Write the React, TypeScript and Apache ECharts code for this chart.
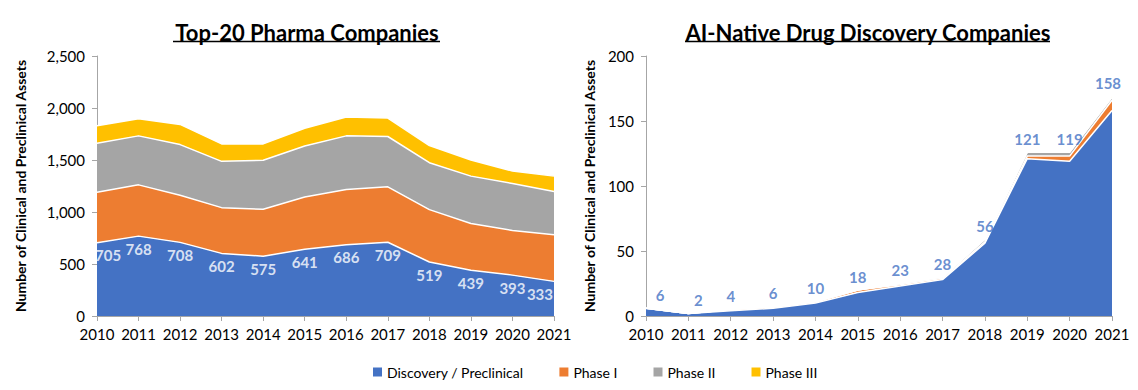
import React, { useEffect, useRef } from "react";
import * as echarts from "echarts";

const years = ["2010", "2011", "2012", "2013", "2014", "2015", "2016", "2017", "2018", "2019", "2020", "2021"];
const seriesNames = ["Discovery / Preclinical", "Phase I", "Phase II", "Phase III"];
const colors = ["#4472C4", "#ED7D31", "#A5A5A5", "#FFC000"];

const pharmaDiscovery = [705, 768, 708, 602, 575, 641, 686, 709, 519, 439, 393, 333];
const pharmaPhase1 = [485, 493, 453, 440, 451, 504, 530, 533, 504, 451, 430, 448];
const pharmaPhase2 = [471, 471, 487, 445, 471, 490, 516, 484, 451, 455, 451, 416];
const pharmaPhase3 = [168, 165, 194, 168, 158, 171, 181, 177, 165, 155, 120, 148];

const aiDiscovery = [6, 2, 4, 6, 10, 18, 23, 28, 56, 121, 119, 158];
const aiPhase1 = [0, 0, 1, 1, 1, 2, 1, 1, 1, 2, 4, 8];
const aiPhase2 = [0, 0, 0, 0, 0, 0, 1, 1, 2, 3, 3, 2];
const aiPhase3 = [0, 0, 0, 0, 0, 0, 0, 0, 0, 0, 0, 1];

const leftTicks = [0, 500, 1000, 1500, 2000, 2500];
const rightTicks = [0, 50, 100, 150, 200];

const FONT = "Lato";

export default function App() {
  const ref = useRef<HTMLDivElement>(null);

  useEffect(() => {
    if (!ref.current) return;
    const chart = echarts.init(ref.current, undefined, { renderer: "svg" });

    const axisLine = { show: true, lineStyle: { color: "#A6A6A6", width: 1 } };
    const axisTick = { show: true, length: 5, lineStyle: { color: "#A6A6A6" } };
    const axisLabel = { color: "#000", fontSize: 15, fontFamily: FONT };

    const mkArea = (name: string, data: number[], idx: number, stack: string, ci: number) => ({
      name,
      type: "line",
      stack,
      xAxisIndex: idx,
      yAxisIndex: idx,
      data,
      symbol: "none",
      lineStyle: { color: "#FFFFFF", width: 1.5 },
      itemStyle: { color: colors[ci] },
      areaStyle: { color: colors[ci], opacity: 1 },
      z: 2,
    });

    const pharmaSets = [pharmaDiscovery, pharmaPhase1, pharmaPhase2, pharmaPhase3];
    const aiSets = [aiDiscovery, aiPhase1, aiPhase2, aiPhase3];

    const aiTotals = years.map((_, i) => aiSets.reduce((s, a) => s + a[i], 0));

    const nameStyle = { fontFamily: FONT, fontWeight: "bold", fontSize: 14, color: "#000" };

    const option: any = {
      animation: false,
      textStyle: { fontFamily: FONT },
      title: [
        {
          text: "Top-20 Pharma Companies",
          left: 302,
          textAlign: "center",
          top: 16,
          textStyle: { fontFamily: FONT, fontWeight: "bold", fontSize: 22, color: "#000" },
        },
        {
          text: "AI-Native Drug Discovery Companies",
          left: 863,
          textAlign: "center",
          top: 16,
          textStyle: { fontFamily: FONT, fontWeight: "bold", fontSize: 22, color: "#000" },
        },
      ],
      graphic: [
        { type: "line", shape: { x1: 173, y1: 41.5, x2: 440, y2: 41.5 }, style: { stroke: "#000", lineWidth: 1.5 } },
        { type: "line", shape: { x1: 685, y1: 41.5, x2: 1050, y2: 41.5 }, style: { stroke: "#000", lineWidth: 1.5 } },
      ],
      legend: {
        data: seriesNames.map((n, i) => ({ name: n, itemStyle: { color: colors[i] } })),
        left: 368,
        top: 360,
        icon: "rect",
        itemWidth: 9,
        itemHeight: 9,
        itemGap: 36,
        textStyle: { color: "#000", fontSize: 14, fontFamily: FONT },
      },
      grid: [
        { left: 97, top: 56, width: 457, height: 260 },
        { left: 646, top: 56, width: 466, height: 260 },
      ],
      xAxis: [0, 1].map((i) => ({
        type: "category",
        gridIndex: i,
        data: years,
        boundaryGap: false,
        axisLine,
        axisTick: { ...axisTick, interval: 0 },
        axisLabel: { ...axisLabel, interval: 0, margin: 10 },
        splitLine: { show: false },
      })),
      yAxis: [
        {
          type: "value",
          gridIndex: 0,
          min: leftTicks[0],
          max: leftTicks[leftTicks.length - 1],
          interval: 500,
          axisLine,
          axisTick,
          splitLine: { show: false },
          axisLabel: {
            ...axisLabel,
            margin: 12,
            formatter: (v: number) => v.toLocaleString("en-US"),
          },
          name: "Number of Clinical and Preclinical Assets",
          nameLocation: "middle",
          nameRotate: 90,
          nameGap: 70,
          nameTextStyle: nameStyle,
        },
        {
          type: "value",
          gridIndex: 1,
          min: rightTicks[0],
          max: rightTicks[rightTicks.length - 1],
          interval: 50,
          axisLine,
          axisTick,
          splitLine: { show: false },
          axisLabel: { ...axisLabel, margin: 12 },
          name: "Number of Clinical and Preclinical Assets",
          nameLocation: "middle",
          nameRotate: 90,
          nameGap: 50,
          nameTextStyle: nameStyle,
        },
      ],
      series: [
        ...pharmaSets.map((d, i) => mkArea(seriesNames[i], d, 0, "pharma", i)),
        ...aiSets.map((d, i) => mkArea(seriesNames[i], d, 1, "ai", i)),
        {
          type: "scatter",
          xAxisIndex: 0,
          yAxisIndex: 0,
          symbolSize: 0,
          silent: true,
          z: 5,
          data: pharmaDiscovery.map((v, i) => ({
            value: [i, v],
            label:
              i === 0
                ? { align: "left", offset: [-2, 0] }
                : i === pharmaDiscovery.length - 1
                ? { align: "right", offset: [-1, 0] }
                : {},
          })),
          label: {
            show: true,
            position: "bottom",
            distance: 5,
            color: "#FFFFFF",
            fontWeight: "bold",
            fontSize: 15,
            fontFamily: FONT,
            formatter: (p: any) => String(pharmaDiscovery[p.dataIndex]),
          },
        },
        {
          type: "scatter",
          xAxisIndex: 1,
          yAxisIndex: 1,
          symbolSize: 0,
          silent: true,
          z: 5,
          data: aiTotals.map((v, i) => ({
            value: [i, v],
            label: i === 0 ? { offset: [14, 0] } : i === 1 ? { offset: [10, 0] } : i === 11 ? { offset: [-4, 0] } : {},
          })),
          label: {
            show: true,
            position: "top",
            distance: 6,
            color: "#4472C4",
            fontWeight: "bold",
            fontSize: 15,
            fontFamily: FONT,
            formatter: (p: any) => String(aiDiscovery[p.dataIndex]),
          },
        },
      ],
    };

    chart.setOption(option);
    return () => chart.dispose();
  }, []);

  return (
    <div
      ref={ref}
      style={{ position: "absolute", left: 0, top: 0, width: 1138, height: 390, background: "#fff" }}
    />
  );
}
